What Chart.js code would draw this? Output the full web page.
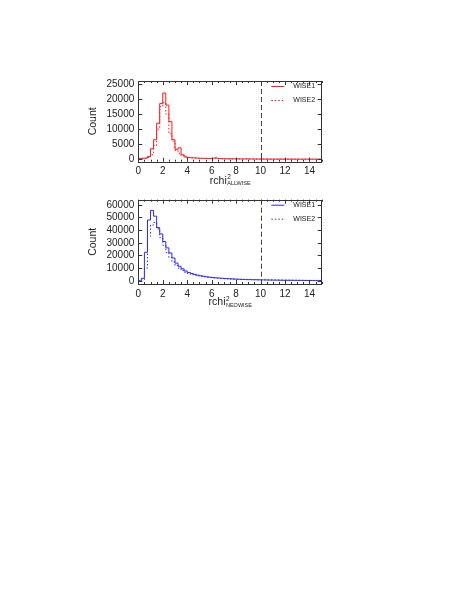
<!DOCTYPE html>
<html>
<head>
<meta charset="utf-8">
<script src="https://cdn.jsdelivr.net/npm/chart.js@4"></script>
<style>
  body { margin: 0; background: #fff; }
  canvas { position: absolute; }
</style>
</head>
<body>
<canvas id="allwiseChart" style="left:60px; top:65px;" width="280" height="130"></canvas>
<canvas id="neowiseChart" style="left:60px; top:185px;" width="280" height="135"></canvas>
<script>
// histogram bins: 0 to 15 in steps of 0.25
const binWidth = 0.25;
const xTicks = [0, 2, 4, 6, 8, 10, 12, 14];
const cutValue = 10;

// ALLWISE rchi2 counts
const allwiseW1 = [300, 350, 400, 900, 3500, 6500, 12000, 18500, 22000, 18000,
    12500, 6500, 3300, 3800, 1500, 800, 600, 500, 450, 400,
    350, 300, 300, 250, 350, 450, 250, 200, 180, 160,
    150, 150, 130, 120, 110, 150, 120, 100, 90, 80,
    80, 70, 70, 60, 60, 60, 50, 50, 50, 45,
    45, 40, 40, 40, 35, 35, 30, 30, 30, 30];
const allwiseW2 = [150, 200, 300, 600, 1500, 4500, 10000, 17500, 18800, 15000,
    8500, 6000, 3000, 2000, 1200, 800, 600, 500, 400, 350,
    300, 280, 250, 230, 300, 350, 220, 180, 160, 150,
    140, 130, 120, 110, 100, 130, 110, 90, 80, 75,
    70, 65, 60, 55, 55, 50, 50, 45, 45, 40,
    40, 35, 35, 35, 30, 30, 30, 25, 25, 25];
const allwiseYTicks = [0, 5000, 10000, 15000, 20000, 25000];

// NEOWISE rchi2 counts
const neowiseW1 = [0, 2000, 22500, 48000, 55500, 51000, 42000, 37000, 31000, 26000,
    22000, 18000, 14000, 11500, 9500, 7800, 6600, 5800, 5100, 4500,
    4000, 3600, 3200, 2900, 2600, 2400, 2200, 2000, 1850, 1700,
    1550, 1400, 1300, 1200, 1100, 1000, 950, 900, 850, 800,
    750, 700, 650, 600, 560, 520, 480, 450, 420, 400,
    380, 350, 330, 310, 290, 270, 250, 240, 220, 200];
const neowiseW2 = [0, 800, 10000, 35000, 44000, 46000, 41000, 34000, 28000, 22500,
    18500, 15000, 12000, 10000, 8200, 6800, 5800, 5000, 4400, 3900,
    3500, 3100, 2800, 2500, 2300, 2100, 1900, 1750, 1600, 1500,
    1400, 1300, 1200, 1100, 1050, 1000, 950, 900, 850, 800,
    780, 750, 720, 700, 680, 650, 620, 600, 580, 550,
    520, 500, 470, 450, 420, 400, 380, 360, 340, 320];
const neowiseYTicks = [0, 10000, 20000, 30000, 40000, 50000, 60000];

Chart.defaults.font.family = '"Liberation Sans", Arial, sans-serif';
Chart.defaults.font.size = 10;
Chart.defaults.color = '#222';

// turn bin counts into step points at the left bin edges (+ closing point)
function toSteps(counts) {
    const pts = counts.map((c, i) => ({ x: i * binWidth, y: c }));
    pts.push({ x: counts.length * binWidth, y: counts[counts.length - 1] });
    return pts;
}

// IDL-like frame, inward ticks, cut line, legend and axis titles
const idlPlot = {
    id: 'idlPlot',
    afterDatasetsDraw(chart, args, opts) {
        const ctx = chart.ctx;
        const a = chart.chartArea;
        const xs = chart.scales.x, ys = chart.scales.y;
        ctx.save();

        // dashed cut line
        const cx = Math.round(xs.getPixelForValue(cutValue)) + 0.5;
        ctx.strokeStyle = '#444';
        ctx.lineWidth = 1;
        ctx.setLineDash([5, 3]);
        ctx.beginPath();
        ctx.moveTo(cx, a.top);
        ctx.lineTo(cx, a.bottom);
        ctx.stroke();
        ctx.setLineDash([]);

        // frame
        ctx.strokeStyle = '#333';
        ctx.strokeRect(Math.round(a.left) + 0.5, Math.round(a.top) + 0.5,
            Math.round(a.right - a.left), Math.round(a.bottom - a.top));

        // x ticks (major every 2, minor every 0.5)
        ctx.beginPath();
        for (let v = 0; v <= 15; v += 0.5) {
            const px = Math.round(xs.getPixelForValue(v)) + 0.5;
            const len = (v % 2 === 0) ? 4 : 2;
            ctx.moveTo(px, a.bottom); ctx.lineTo(px, a.bottom - len);
            ctx.moveTo(px, a.top); ctx.lineTo(px, a.top + len);
        }
        // y ticks
        opts.yTicks.forEach(v => {
            const py = Math.round(ys.getPixelForValue(v)) + 0.5;
            ctx.moveTo(a.left, py); ctx.lineTo(a.left + 4, py);
            ctx.moveTo(a.right, py); ctx.lineTo(a.right - 4, py);
        });
        ctx.stroke();

        // legend
        chart.data.datasets.forEach((ds, i) => {
            const ly = a.top + 5.5 + i * 14;
            ctx.strokeStyle = ds.borderColor;
            ctx.setLineDash(ds.borderDash || []);
            ctx.beginPath();
            ctx.moveTo(a.left + 133, ly);
            ctx.lineTo(a.left + 146, ly);
            ctx.stroke();
            ctx.setLineDash([]);
            ctx.fillStyle = '#222';
            ctx.font = '7px "Liberation Sans", Arial, sans-serif';
            ctx.textBaseline = 'middle';
            ctx.textAlign = 'left';
            ctx.fillText(ds.label, a.left + 155, ly);
        });

        // y title
        ctx.fillStyle = '#222';
        ctx.save();
        ctx.translate(33.5, (a.top + a.bottom) / 2);
        ctx.rotate(-Math.PI / 2);
        ctx.font = '10.5px "Liberation Sans", Arial, sans-serif';
        ctx.textAlign = 'center';
        ctx.textBaseline = 'middle';
        ctx.fillText('Count', 0, 0);
        ctx.restore();

        // x title: rchi with superscript 2 and subscript survey name
        ctx.textAlign = 'left';
        ctx.textBaseline = 'alphabetic';
        const base = a.bottom + opts.titleOffset;
        ctx.font = '10.5px "Liberation Sans", Arial, sans-serif';
        const w1 = ctx.measureText('rchi').width;
        ctx.font = '6.5px "Liberation Sans", Arial, sans-serif';
        const w2 = ctx.measureText('2').width;
        ctx.font = '5.5px "Liberation Sans", Arial, sans-serif';
        const w3 = ctx.measureText(opts.survey).width;
        const x0 = (a.left + a.right) / 2 - (w1 + Math.max(w2, w3)) / 2;
        ctx.font = '10.5px "Liberation Sans", Arial, sans-serif';
        ctx.fillText('rchi', x0, base);
        ctx.font = '6.5px "Liberation Sans", Arial, sans-serif';
        ctx.fillText('2', x0 + w1 + 0.5, base - 4.5);
        ctx.font = '5.5px "Liberation Sans", Arial, sans-serif';
        ctx.fillText(opts.survey, x0 + w1 + 0.5, base + 1.5);

        ctx.restore();
    }
};

function makeHistChart(canvasId, w1, w2, color, yMin, yMax, yTicks, survey, padTop, xHeight, titleOffset) {
    const ctx = document.getElementById(canvasId).getContext('2d');
    return new Chart(ctx, {
        type: 'line',
        data: {
            datasets: [
                { label: 'WISE1', data: toSteps(w1), borderColor: color, borderWidth: 1, stepped: true, pointRadius: 0, fill: false },
                { label: 'WISE2', data: toSteps(w2), borderColor: color, borderWidth: 1, borderDash: [1.5, 2], stepped: true, pointRadius: 0, fill: false }
            ]
        },
        options: {
            responsive: false,
            animation: false,
            layout: { padding: { top: padTop, right: 18.3, left: 0, bottom: 0 } },
            plugins: {
                legend: { display: false },
                tooltip: { enabled: false },
                idlPlot: { yTicks: yTicks, survey: survey, titleOffset: titleOffset }
            },
            scales: {
                x: {
                    type: 'linear', min: 0, max: 15,
                    grid: { display: false, drawTicks: false },
                    border: { display: false },
                    ticks: { padding: 4, maxRotation: 0, autoSkip: false, callback: v => String(v) },
                    afterBuildTicks: s => { s.ticks = xTicks.map(v => ({ value: v })); },
                    afterFit: s => { s.height = xHeight; }
                },
                y: {
                    min: yMin, max: yMax,
                    grid: { display: false, drawTicks: false },
                    border: { display: false },
                    ticks: { padding: 4, autoSkip: false, callback: v => String(v) },
                    afterBuildTicks: s => { s.ticks = yTicks.map(v => ({ value: v })); },
                    afterFit: s => { s.width = 78.3; }
                }
            }
        },
        plugins: [idlPlot]
    });
}

// canvas top 65: chart area 81 .. 161.7 ; canvas top 185: chart area 199.7 .. 284
makeHistChart('allwiseChart', allwiseW1, allwiseW2, '#ff1a1a', -800, 26000, allwiseYTicks, 'ALLWISE', 16, 33.3, 22);
makeHistChart('neowiseChart', neowiseW1, neowiseW2, '#2a2aff', -2500, 64000, neowiseYTicks, 'NEOWISE', 14.7, 36, 21);
</script>
</body>
</html>
